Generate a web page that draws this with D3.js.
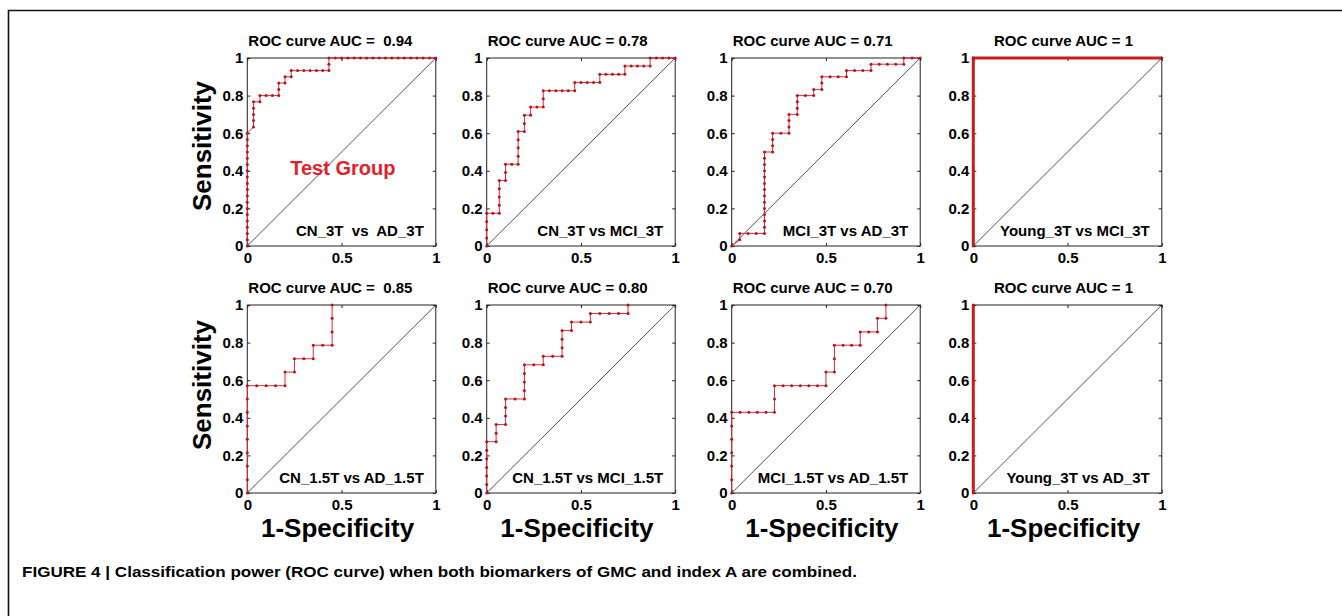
<!DOCTYPE html>
<html><head><meta charset="utf-8">
<script src="https://cdn.jsdelivr.net/npm/d3@7"></script>
<style>
html,body{margin:0;padding:0;background:#fff;}
svg{display:block;}
text{font-family:"Liberation Sans", Arial, sans-serif; font-weight:bold; white-space:pre;}
</style></head><body>
<svg id="chart" width="1342" height="616"></svg>
<script>
// ---------- data ----------
const aucLabels = ["0.94","0.78","0.71","1","0.85","0.80","0.70","1"];
const panelTitles = ["ROC curve AUC =  0.94","ROC curve AUC = 0.78","ROC curve AUC = 0.71","ROC curve AUC = 1",
                     "ROC curve AUC =  0.85","ROC curve AUC = 0.80","ROC curve AUC = 0.70","ROC curve AUC = 1"];
const comparisonLabels = ["CN_3T  vs  AD_3T","CN_3T vs MCI_3T","MCI_3T vs AD_3T","Young_3T vs MCI_3T",
                          "CN_1.5T vs AD_1.5T","CN_1.5T vs MCI_1.5T","MCI_1.5T vs AD_1.5T","Young_3T vs AD_3T"];
const yTicks = [0,0.2,0.4,0.6,0.8,1];
const yTickLabels = ["0","0.2","0.4","0.6","0.8","1"];
const xTicks = [0,0.5,1];
const xTickLabels = ["0","0.5","1"];
const yAxisTitle = "Sensitivity";
const xAxisTitle = "1-Specificity";
const groupNote = "Test Group";
const caption = "FIGURE 4 | Classification power (ROC curve) when both biomarkers of GMC and index A are combined.";

// ROC points [1-specificity, sensitivity]
const rocCN3AD3 = [[0,0],[0,.033],[0,.067],[0,.1],[0,.133],[0,.167],[0,.2],[0,.233],[0,.267],[0,.3],[0,.333],[0,.367],[0,.4],[0,.433],[0,.467],[0,.5],[0,.533],[0,.567],[0,.6],
 [.033,.633],[.033,.667],[.033,.7],[.033,.733],[.033,.767],[.067,.767],[.067,.8],[.1,.8],[.133,.8],[.167,.8],[.167,.833],[.167,.867],[.2,.867],[.2,.9],[.233,.9],[.233,.933],
 [.267,.933],[.3,.933],[.333,.933],[.367,.933],[.4,.933],[.433,.933],[.433,.967],[.433,1],
 [.467,1],[.5,1],[.533,1],[.567,1],[.6,1],[.633,1],[.667,1],[.7,1],[.733,1],[.767,1],[.8,1],[.833,1],[.867,1],[.9,1],[.933,1],[.967,1],[1,1]];
const rocCN3MCI3 = [[0,0],[0,.043],[0,.087],[0,.13],[0,.174],[.033,.174],[.067,.174],[.067,.217],[.067,.261],[.067,.304],[.067,.348],[.1,.348],[.1,.391],[.1,.435],[.133,.435],[.167,.435],
 [.167,.478],[.167,.522],[.167,.565],[.167,.609],[.2,.609],[.2,.652],[.2,.696],[.233,.696],[.233,.739],[.267,.739],[.3,.739],[.3,.783],[.3,.826],[.333,.826],[.367,.826],[.4,.826],[.433,.826],[.467,.826],
 [.467,.87],[.5,.87],[.533,.87],[.567,.87],[.6,.87],[.6,.913],[.633,.913],[.667,.913],[.7,.913],[.733,.913],[.733,.957],[.767,.957],[.8,.957],[.833,.957],[.867,.957],[.867,1],[.9,1],[.933,1],[.967,1],[1,1]];
const rocMCI3AD3 = [[0,0],[.043,.033],[.043,.067],[.087,.067],[.13,.067],[.174,.067],[.174,.1],[.174,.133],[.174,.167],[.174,.2],[.174,.233],[.174,.267],[.174,.3],[.174,.333],[.174,.367],[.174,.4],[.174,.433],[.174,.467],[.174,.5],
 [.217,.5],[.217,.533],[.217,.567],[.217,.6],[.261,.6],[.304,.6],[.304,.633],[.304,.667],[.304,.7],[.348,.7],[.348,.733],[.348,.767],[.348,.8],[.391,.8],[.435,.8],[.435,.833],[.478,.833],[.478,.867],[.478,.9],
 [.522,.9],[.565,.9],[.609,.9],[.609,.933],[.652,.933],[.696,.933],[.739,.933],[.739,.967],[.783,.967],[.826,.967],[.87,.967],[.913,.967],[.913,1],[.957,1],[1,1]];
const rocYoung3MCI3 = [[0,0],[0,1],[1,1]];
const rocCN15AD15 = [[0,0],[0,.071],[0,.143],[0,.214],[0,.286],[0,.357],[0,.429],[0,.5],[0,.571],[.05,.571],[.1,.571],[.15,.571],[.2,.571],[.2,.643],[.25,.643],[.25,.714],[.3,.714],[.35,.714],
 [.35,.786],[.4,.786],[.45,.786],[.45,.857],[.45,.929],[.45,1]];
const rocCN15MCI15 = [[0,0],[0,.045],[0,.091],[0,.136],[0,.182],[0,.227],[0,.273],[.05,.273],[.05,.318],[.05,.364],[.1,.364],[.1,.409],[.1,.455],[.1,.5],[.15,.5],[.2,.5],[.2,.545],[.2,.591],[.2,.636],[.2,.682],
 [.25,.682],[.3,.682],[.3,.727],[.35,.727],[.4,.727],[.4,.773],[.4,.818],[.4,.864],[.45,.864],[.45,.909],[.5,.909],[.55,.909],[.55,.955],[.6,.955],[.65,.955],[.7,.955],[.75,.955],[.75,1]];
const rocMCI15AD15 = [[0,0],[0,.071],[0,.143],[0,.214],[0,.286],[0,.357],[0,.429],[.045,.429],[.091,.429],[.136,.429],[.182,.429],[.227,.429],[.227,.5],[.227,.571],[.273,.571],[.318,.571],[.364,.571],[.409,.571],
 [.455,.571],[.5,.571],[.5,.643],[.545,.643],[.545,.714],[.545,.786],[.591,.786],[.636,.786],[.682,.786],[.682,.857],[.727,.857],[.773,.857],[.773,.929],[.818,.929],[.818,1]];
const rocYoung3AD3 = [[0,0],[0,1]];
const rocSeries = [rocCN3AD3, rocCN3MCI3, rocMCI3AD3, rocYoung3MCI3, rocCN15AD15, rocCN15MCI15, rocMCI15AD15, rocYoung3AD3];

// ---------- layout ----------
const colX = [247.3, 486.7, 731.7, 973.3];
const rowY = [58, 305];
const PW = 188.5, PH = 188;
const RED_LINE = "#d4303a", RED_DOT = "#b8121c";

const svg = d3.select("#chart");

// figure frame
svg.append("path").attr("d","M8.5,616V10.5H1342").attr("fill","none").attr("stroke","#111").attr("stroke-width",1.6);

rocSeries.forEach((pts, i) => {
  const col = i % 4, row = Math.floor(i / 4);
  const x0 = colX[col], y0 = rowY[row];
  const x = d3.scaleLinear().domain([0,1]).range([x0, x0 + PW]);
  const y = d3.scaleLinear().domain([0,1]).range([y0 + PH, y0]);
  const g = svg.append("g");

  // axes with inward ticks
  const fmtX = (d) => xTickLabels[xTicks.indexOf(d)];
  const fmtY = (d) => yTickLabels[yTicks.indexOf(d)];
  const gb = g.append("g").attr("transform",`translate(0,${y0+PH})`)
     .call(d3.axisBottom(x).tickValues(xTicks).tickSizeInner(-3).tickSizeOuter(0).tickPadding(6.5).tickFormat(fmtX));
  const gl = g.append("g").attr("transform",`translate(${x0},0)`)
     .call(d3.axisLeft(y).tickValues(yTicks).tickSizeInner(-3).tickSizeOuter(0).tickPadding(4).tickFormat(fmtY));
  const gt = g.append("g").attr("transform",`translate(0,${y0})`)
     .call(d3.axisTop(x).tickValues(xTicks).tickSizeInner(-3).tickSizeOuter(0).tickFormat(""));
  const gr = g.append("g").attr("transform",`translate(${x0+PW},0)`)
     .call(d3.axisRight(y).tickValues(yTicks).tickSizeInner(-3).tickSizeOuter(0).tickFormat(""));
  [gb,gl,gt,gr].forEach(a => {
    a.select(".domain").remove();
    a.attr("font-family", null).attr("font-size", null);
    a.selectAll("line").attr("stroke","#222");
    a.selectAll("text").attr("fill","#000").style("font-size","15px");
  });

  // box
  g.append("rect").attr("x",x0).attr("y",y0).attr("width",PW).attr("height",PH)
    .attr("fill","none").attr("stroke","#222").attr("stroke-width",1);

  // chance diagonal
  g.append("line").attr("x1",x(0)).attr("y1",y(0)).attr("x2",x(1)).attr("y2",y(1))
    .attr("stroke","#222").attr("stroke-width",0.8);

  // ROC curve
  const perfect = aucLabels[i] === "1";
  const line = d3.line().x(d => x(d[0])).y(d => y(d[1]));
  g.append("path").datum(pts).attr("d", line).attr("fill","none")
    .attr("stroke", perfect ? "#cc1a1a" : RED_LINE).attr("stroke-width", perfect ? 3 : 1);
  g.selectAll("circle.pt").data(pts).join("circle").attr("class","pt")
    .attr("cx", d => x(d[0])).attr("cy", d => y(d[1])).attr("r", 1.5).attr("fill", RED_DOT);

  // title
  g.append("text").attr("x", perfect ? x0 + PW/2 - 4 : x0 + 1).attr("y", y0 - 12.5)
    .attr("text-anchor", perfect ? "middle" : "start").style("font-size","15px").text(panelTitles[i]);

  // comparison label
  g.append("text").attr("x", x0 + PW - 12).attr("y", y0 + PH - 10)
    .attr("text-anchor","end").style("font-size","15px").text(comparisonLabels[i]);

  if (col === 0) {
    const cy = y0 + PH/2 + (row === 0 ? -6 : -14);
    g.append("text").attr("transform",`translate(211,${cy}) rotate(-90)`)
      .attr("text-anchor","middle").style("font-size","26px").text(yAxisTitle);
  }
  if (row === 1) {
    g.append("text").attr("x", x0 + PW/2 - 4).attr("y", 537)
      .attr("text-anchor","middle").style("font-size","26px").text(xAxisTitle);
  }
  if (i === 0) {
    g.append("text").attr("x", x(0.228)).attr("y", y(0.38))
      .attr("fill","#e3202a").style("font-size","20px").text(groupNote);
  }
});

// caption
svg.append("text").attr("x",22).attr("y",577)
  .style("font-family","'Liberation Sans Narrow','Arial Narrow','Liberation Sans',sans-serif")
  .style("font-size","14px").attr("textLength",835).attr("lengthAdjust","spacingAndGlyphs")
  .text(caption);
</script>
</body></html>
